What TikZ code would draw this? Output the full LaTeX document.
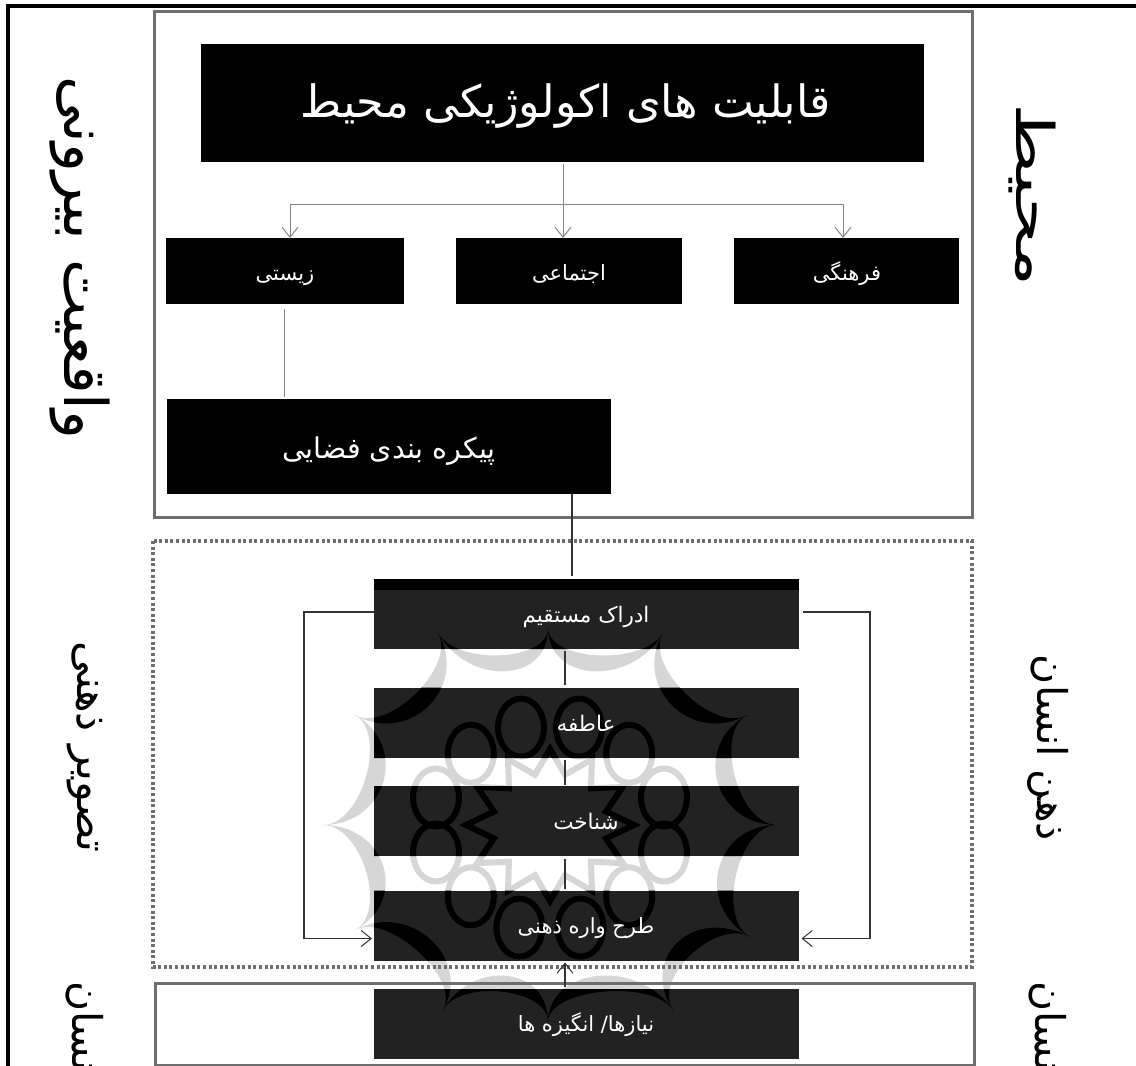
\documentclass[tikz,border=0pt]{standalone}
\usepackage{fontspec}
\usetikzlibrary{arrows.meta,calc}
\TeXXeTstate=1
\newfontfamily\arabicfont[Script=Arabic]{DejaVu Sans}
\definecolor{darkbox}{HTML}{222222}
\definecolor{wmgray}{HTML}{D6D6D6}
\definecolor{boxline}{HTML}{6E6E6E}
\definecolor{thinline}{HTML}{858585}
\definecolor{sideline}{HTML}{333333}
\newcommand{\ar}[1]{\arabicfont\beginR #1\endR}
\newcommand{\wmark}[1]{%
  \foreach \i in {0,...,11}{%
    \pgfmathtruncatemacro{\j}{mod(\i+1,12)}%
    \fill[#1] (T\i) .. controls ($(T\i)!0.17!(WC)$) and ($(T\j)!0.17!(WC)$) .. (T\j)
       .. controls ($(T\j)!0.28!(WC)$) and ($(T\i)!0.28!(WC)$) .. (T\i) -- cycle;
  }%
  \foreach \a/\r in {15/118,45/112,75/112,105/112,135/112,165/118,195/118,225/112,255/118,285/118,315/112,345/118}{%
    \draw[#1,line width=6pt] ($(WC)+({\a}:\r pt and 0.9*\r pt)$) ellipse [x radius=23pt,y radius=29pt];
  }%
  \draw[#1,line width=6pt,line join=miter] ($(WC)+(0:84pt and 76pt)$)
    \foreach \k in {1,...,23}{ -- ($(WC)+({\k*15}:{84pt-mod(\k,2)*26pt} and {76pt-mod(\k,2)*24pt})$) } -- cycle;
}
\tikzset{
  blackbox/.style={fill=black,inner sep=0pt,outer sep=0pt},
  greybox/.style={fill=darkbox,inner sep=0pt,outer sep=0pt},
  lab/.style={text=white,inner sep=0pt,anchor=base,font=\fontsize{21}{26}\selectfont},
  side/.style={text=black,inner sep=0pt,rotate=-90},
  thin grey/.style={draw=thinline,line width=1pt},
  thin dark/.style={draw=sideline,line width=1.2pt},
  barb/.style={-{Straight Barb[length=10pt,width=16pt,line width=1pt]}}
}
\begin{document}
\begin{tikzpicture}[x=1pt,y=-1pt]
\useasboundingbox (0,0) rectangle (1136,1066);
\fill[white] (0,0) rectangle (1136,1066);
\begin{scope}
\clip (0,0) rectangle (1136,1066);
% watermark anchors
\coordinate (WC) at (550,825);
\coordinate (T0) at (777,825);
\coordinate (T1) at (747,715);
\coordinate (T2) at (663,633);
\coordinate (T3) at (548,628);
\coordinate (T4) at (438,633);
\coordinate (T5) at (355,715);
\coordinate (T6) at (323,825);
\coordinate (T7) at (355,930);
\coordinate (T8) at (443,1010);
\coordinate (T9) at (548,1022);
\coordinate (T10) at (673,1010);
\coordinate (T11) at (750,937);
\wmark{wmgray}
% outer frame lines
\draw[black,line width=3.5pt] (1136,6) -- (8,6) -- (8,1066);
% group frames
\draw[boxline,line width=3pt] (154,11) rectangle (972,517);
\draw[boxline,line width=3.5pt,dash pattern=on 3pt off 2.6pt] (153,541) rectangle (972,967);
\draw[boxline,line width=3pt] (155,983) rectangle (974,1065);
% boxes
\node[blackbox,minimum width=723pt,minimum height=118.5pt] (top) at (562.5,102.75) {};
\node[blackbox,minimum width=238pt,minimum height=66pt] (zisti) at (285,271) {};
\node[blackbox,minimum width=226pt,minimum height=66pt] (ejt) at (569,271) {};
\node[blackbox,minimum width=225pt,minimum height=66pt] (farh) at (846.5,271) {};
\node[blackbox,minimum width=444pt,minimum height=94.5pt] (peyk) at (389,446.25) {};
\node[greybox,minimum width=424.5pt,minimum height=70pt] (adrak) at (586.25,614) {};
\node[blackbox,minimum width=424.5pt,minimum height=11pt] (adrakbar) at (586.25,584.5) {};
\node[greybox,minimum width=424.5pt,minimum height=70.5pt] (atef) at (586.25,722.75) {};
\node[greybox,minimum width=424.5pt,minimum height=70pt] (shen) at (586.25,821) {};
\node[greybox,minimum width=424.5pt,minimum height=70pt] (tarh) at (586.25,925.5) {};
\node[greybox,minimum width=424.5pt,minimum height=70pt] (niaz) at (586.25,1024) {};
% watermark seen on the dark boxes
\begin{scope}
\clip (374,590) rectangle (798.5,649)
      (374,687.5) rectangle (798.5,758)
      (374,786) rectangle (798.5,856)
      (374,890.5) rectangle (798.5,960.5)
      (374,989) rectangle (798.5,1059);
\wmark{black}
\end{scope}
% connector helpers
\coordinate (busL) at (290,204);
\coordinate (busM) at (563,204);
\coordinate (busR) at (843,204);
\coordinate (pk) at (572,0);
\coordinate (mid) at (565,0);
\coordinate (loopL) at (304,612);
\coordinate (loopR) at (870,612);
\coordinate (loopY) at (0,938.5);
\coordinate (startY) at (0,612);
% connectors
\draw[thin grey] (busL) -- (busR);
\draw[thin grey,barb,shorten <=2pt] (top.south -| busM) -- (ejt.north -| busM);
\draw[thin grey,barb] (busL) -- (zisti.north -| busL);
\draw[thin grey,barb] (busR) -- (farh.north -| busR);
\draw[thin grey,shorten <=5pt,shorten >=2pt] (zisti.south -| 284,0) -- (peyk.north -| 284,0);
\draw[thin dark,shorten >=3pt] (peyk.south -| pk) -- (adrak.north -| pk);
\draw[thin dark,shorten >=2pt,barb] (adrak.west |- startY) -- (loopL) -- (loopL |- loopY) -- (tarh.west |- loopY);
\draw[thin dark,shorten <=4pt,barb,shorten >=3pt] (adrak.east |- startY) -- (loopR) -- (loopR |- loopY) -- (tarh.east |- loopY);
\draw[thin dark,shorten <=2pt,shorten >=3pt] (adrak.south -| mid) -- (atef.north -| mid);
\draw[thin dark,shorten <=2pt,shorten >=1pt] (atef.south -| mid) -- (shen.north -| mid);
\draw[thin dark,shorten <=3pt,shorten >=2pt] (shen.south -| mid) -- (tarh.north -| mid);
\draw[thin dark,barb,shorten <=2pt,shorten >=2pt] (niaz.north -| mid) -- (tarh.south -| mid);
% box labels
\node[lab,font=\fontsize{44.5}{54}\selectfont] (topt) at (566,117) {\ar{قابلیت های اکولوژیکی محیط}};
\node[lab] (zistit) at (285,280) {\ar{زیستی}};
\node[lab] (ejtt) at (569,280) {\ar{اجتماعی}};
\node[lab] (farht) at (847,280) {\ar{فرهنگی}};
\node[lab,font=\fontsize{28.5}{34}\selectfont] (peykt) at (389,458) {\ar{پیکره بندی فضایی}};
\node[lab,font=\fontsize{21.5}{26}\selectfont] (adrakt) at (586,622) {\ar{ادراک مستقیم}};
\node[lab,font=\fontsize{21.5}{26}\selectfont] (ateft) at (586,731) {\ar{عاطفه}};
\node[lab,font=\fontsize{21.5}{26}\selectfont] (shent) at (586,829) {\ar{شناخت}};
\node[lab,font=\fontsize{21}{26}\selectfont] (tarht) at (586,933) {\ar{طرح واره ذهنی}};
\node[lab,font=\fontsize{21}{26}\selectfont] (niazt) at (586,1031) {\ar{نیازها/ انگیزه ها}};
% side labels
\node[side,font=\fontsize{60}{72}\selectfont] (s1) at (80,258) {\ar{واقعیت بیرونی}};
\node[side,font=\fontsize{52}{62}\selectfont] (s2) at (1032,195) {\scalebox{1.45}[1]{\ar{محیط}}};
\node[side,font=\fontsize{43}{52}\selectfont] (s3) at (85,747) {\ar{تصویر ذهنی}};
\node[side,font=\fontsize{41}{50}\selectfont] (s4) at (1048,748) {\ar{ذهن انسان}};
\node[side,font=\fontsize{41}{50}\selectfont] (s5) at (85,1032) {\ar{انسان}};
\node[side,font=\fontsize{41}{50}\selectfont] (s6) at (1048,1032) {\ar{انسان}};
\end{scope}
\end{tikzpicture}
\end{document}
